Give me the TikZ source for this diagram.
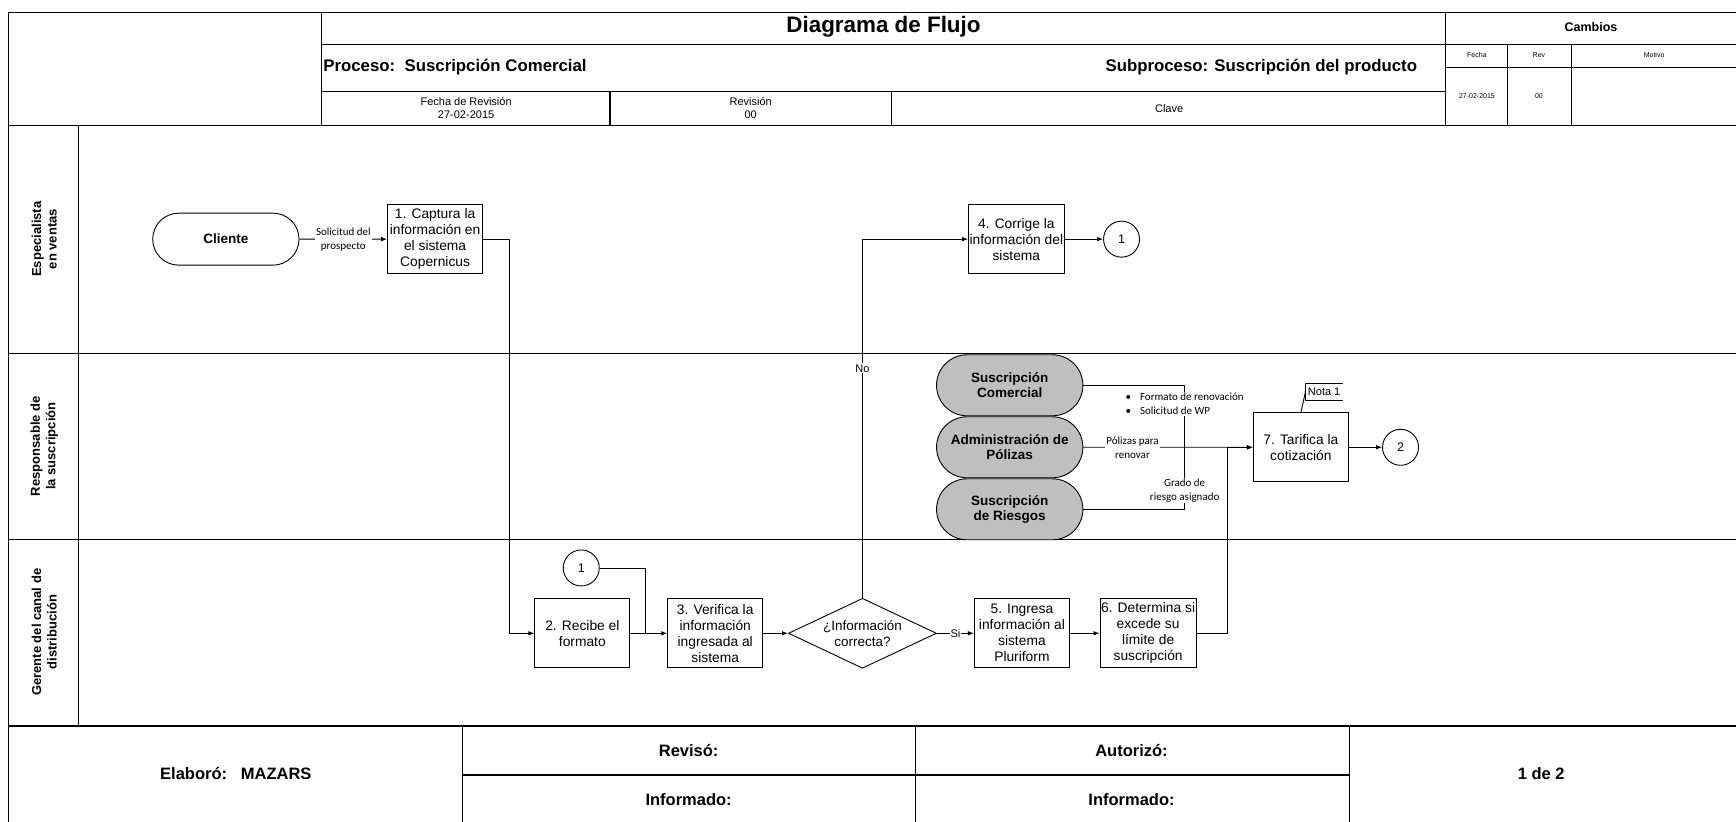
\documentclass[tikz,border=0pt]{standalone}
\usepackage{fontspec}
\setmainfont{Liberation Sans}
\newfontfamily\calibri{Carlito}
\usetikzlibrary{arrows.meta,shapes.geometric,shapes.misc}

\definecolor{areagray}{RGB}{191,191,191}

\tikzset{
  frameline/.style={line width=1.1pt},
  task/.style={draw, line width=0.9pt, minimum width=95pt, minimum height=69pt, inner sep=1pt, align=center, font=\fontsize{13.8}{16}\selectfont},
  actor/.style={draw, rounded rectangle, line width=0.9pt, minimum width=153pt, minimum height=52pt, align=center, font=\fontsize{13.5}{15.5}\selectfont\bfseries},
  area/.style={actor, fill=areagray, minimum height=61pt},
  check/.style={draw, diamond, aspect=2.1, line width=0.9pt, minimum width=148pt, minimum height=70pt, inner sep=0pt, align=center, font=\fontsize{13.5}{16}\selectfont},
  link/.style={draw, circle, line width=0.9pt, minimum size=36pt, inner sep=0pt, font=\fontsize{12.5}{14}\selectfont},
  wire/.style={line width=0.9pt},
  flow/.style={wire, -{Latex[length=6pt,width=4.5pt]}},
  tag/.style={fill=white, inner sep=1pt, align=center, font=\calibri\fontsize{11}{14}\selectfont},
  answer/.style={fill=white, inner sep=1pt, font=\fontsize{11}{13}\selectfont},
  lane/.style={rotate=90, align=center, font=\fontsize{13}{15.5}\selectfont\bfseries},
  title/.style={font=\fontsize{22.4}{26}\selectfont\bfseries},
  head/.style={inner sep=1pt, font=\fontsize{16.8}{19}\selectfont\bfseries},
  cell/.style={align=center, font=\fontsize{11}{13}\selectfont},
  small/.style={font=\fontsize{7}{8}\selectfont},
  foot/.style={font=\fontsize{16.5}{19}\selectfont\bfseries},
}

\begin{document}
\begin{tikzpicture}[x=1.1071pt, y=-1.1071pt]
	\useasboundingbox (0,0) rectangle (1568,742);

	% header grid
	\draw[frameline] (8,11) -- (1568,11);
	\draw[frameline] (8,11) -- (8,742);
	\draw[frameline] (290,11) -- (290,113);
	\draw[frameline] (1306,11) -- (1306,113);
	\draw[frameline] (290,40) -- (1568,40);
	\draw[frameline] (290,83) -- (1306,83);
	\draw[frameline] (1306,61) -- (1568,61);
	\draw[frameline] (551,83) -- (551,113);
	\draw[frameline] (805,83) -- (805,113);
	\draw[frameline] (1362,40) -- (1362,113);
	\draw[frameline] (1419,40) -- (1419,113);
	\draw[frameline] (8,113) -- (1568,113);

	\node[title] (heading) at (798,24) {Diagrama de Flujo};
	\node[head, anchor=west] (process) at (291,61) {Proceso:\ \ Suscripción Comercial};
	\node[head, anchor=east] (subprocess) at (1281,61) {Subproceso: Suscripción del producto};
	\node[cell] (revdate) at (421,98) {Fecha de Revisión\\27-02-2015};
	\node[cell] (revnum) at (678,98) {Revisión\\00};
	\node[cell] (key) at (1056,98) {Clave};
	\node[font=\fontsize{12.5}{15}\selectfont\bfseries] (changes) at (1437,24) {Cambios};
	\node[small] (chdate) at (1334,50) {Fecha};
	\node[small] (chrev) at (1390,50) {Rev};
	\node[small] (chwhy) at (1494,50) {Motivo};
	\node[small] (chdateval) at (1334,87) {27-02-2015};
	\node[small] (chrevval) at (1390,87) {00};

	% swimlanes
	\draw[frameline] (71,113) -- (71,656);
	\draw[frameline] (8,319) -- (1568,319);
	\draw[frameline] (8,487) -- (1568,487);
	\draw[frameline, line width=1.6pt] (8,656) -- (1568,656);
	\node[lane] (sales) at (40,216) {Especialista\\en ventas};
	\node[lane] (underwriter) at (40,403) {Responsable de\\la suscripción};
	\node[lane] (manager) at (40,571) {Gerente del canal de\\distribución};

	% footer
	\draw[frameline] (418,656) -- (418,742);
	\draw[frameline] (827,656) -- (827,742);
	\draw[frameline] (1219,656) -- (1219,742);
	\draw[frameline] (418,700) -- (1219,700);
	\node[foot] (madeby) at (213,699) {Elaboró:\ \ \ MAZARS};
	\node[foot] (checked) at (622,678) {Revisó:};
	\node[foot] (informedA) at (622,722) {Informado:};
	\node[foot] (approved) at (1022,678) {Autorizó:};
	\node[foot] (informedB) at (1022,722) {Informado:};
	\node[foot] (page) at (1392,699) {1 de 2};

	% steps
	\node[actor] (client) at (204,216) {Cliente};
	\node[task] (capture) at (393,216) {1. Captura la\\información en\\el sistema\\Copernicus};
	\node[task] (receive) at (526,572) {2. Recibe el\\formato};
	\node[task] (verify) at (646,572) {3. Verifica la\\información\\ingresada al\\sistema};
	\node[check] (correct) at (779,572) {¿Información\\correcta?};
	\node[task] (fix) at (918,216) {4. Corrige la\\información del\\sistema};
	\node[task] (enter) at (923,572) {5. Ingresa\\información al\\sistema\\Pluriform};
	\node[task] (limit) at (1037,572) {6. Determina si\\excede su\\límite de\\suscripción};
	\node[task] (quote) at (1175,404) {7. Tarifica la\\cotización};
	\node[link] (outA) at (1013,216) {1};
	\node[link] (inA) at (525,513) {1};
	\node[link] (outB) at (1265,404) {2};
	\node[area] (commercial) at (912,348) {Suscripción\\Comercial};
	\node[area] (policies) at (912,404) {Administración de\\Pólizas};
	\node[area] (risks) at (912,460) {Suscripción\\de Riesgos};

	% connectors
	\draw[flow] (client) -- (capture) node[tag, midway] {Solicitud del\\prospecto};
	\draw[flow] (capture.east) -- ++(24,0) |- (receive.west);
	\coordinate (merge) at (583,572);
	\draw[wire] (inA.east) -| (merge);
	\draw[flow] (receive) -- (verify);
	\draw[flow] (verify) -- (correct);
	\draw[flow] (correct.north) |- (fix.west) node[answer, pos=0.32] {No};
	\draw[flow] (fix) -- (outA);
	\draw[flow] (correct) -- (enter) node[answer, midway] {Si};
	\draw[flow] (enter) -- (limit);
	\draw[flow] (limit.east) -- ++(28,0) |- (quote.west);
	\draw[flow] (policies) -- (quote) node[tag, pos=0.29] {Pólizas para\\renovar};
	\coordinate (bus) at (1070,404);
	\draw[wire] (commercial.east) -| (bus);
	\draw[wire] (risks.east) -| (bus);
	\node[tag, align=left] (docs) at (1070,365) {\textbullet\hspace{9pt}Formato de renovación\\\textbullet\hspace{9pt}Solicitud de WP};
	\node[tag] (grade) at (1070,443) {Grado de\\riesgo asignado};
	\draw[flow] (quote) -- (outB);

	% annotation
	\node[font=\fontsize{11}{13}\selectfont, minimum width=37pt, minimum height=17pt, inner sep=0pt] (note) at (1196,354) {Nota 1};
	\draw[wire] (note.north east) -- (note.north west) -- (note.south west) -- (note.south east);
	\draw[wire] (quote.north) -- (note.west);
\end{tikzpicture}
\end{document}
